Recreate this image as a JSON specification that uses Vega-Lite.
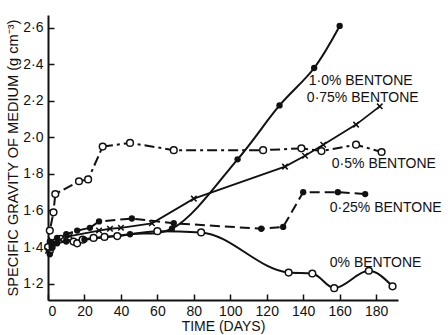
{
  "$schema": "https://vega.github.io/schema/vega-lite/v6.json",
  "width": 350,
  "height": 285,
  "autosize": "none",
  "padding": {"left": 48, "top": 15, "right": 50, "bottom": 35},
  "background": "white",
  "config": {
    "view": {"stroke": null},
    "font": "Liberation Sans",
    "axis": {
      "domainColor": "#111",
      "domainWidth": 2,
      "tickColor": "#111",
      "tickWidth": 1.5,
      "grid": false,
      "labelColor": "#111",
      "titleColor": "#111",
      "labelFont": "Liberation Sans",
      "titleFont": "Liberation Sans",
      "labelFontSize": 14,
      "titleFontSize": 14,
      "titleFontWeight": "normal"
    }
  },
  "datasets": {
    "series": [
      {"series": "0%", "day": 1, "val": 1.38},
      {"series": "0%", "day": 2, "val": 1.40},
      {"series": "0%", "day": 7, "val": 1.445},
      {"series": "0%", "day": 14, "val": 1.43},
      {"series": "0%", "day": 16, "val": 1.42},
      {"series": "0%", "day": 19, "val": 1.44},
      {"series": "0%", "day": 25, "val": 1.45},
      {"series": "0%", "day": 31, "val": 1.455},
      {"series": "0%", "day": 38, "val": 1.46},
      {"series": "0%", "day": 60, "val": 1.487},
      {"series": "0%", "day": 84, "val": 1.48},
      {"series": "0%", "day": 132, "val": 1.26},
      {"series": "0%", "day": 145, "val": 1.255},
      {"series": "0%", "day": 157, "val": 1.175},
      {"series": "0%", "day": 176, "val": 1.27},
      {"series": "0%", "day": 189, "val": 1.185},
      {"series": "1.0%", "day": 1, "val": 1.36},
      {"series": "1.0%", "day": 2, "val": 1.40},
      {"series": "1.0%", "day": 5, "val": 1.42},
      {"series": "1.0%", "day": 10, "val": 1.43},
      {"series": "1.0%", "day": 20, "val": 1.44},
      {"series": "1.0%", "day": 45, "val": 1.47},
      {"series": "1.0%", "day": 68, "val": 1.50},
      {"series": "1.0%", "day": 104, "val": 1.88},
      {"series": "1.0%", "day": 127, "val": 2.175},
      {"series": "1.0%", "day": 146, "val": 2.38},
      {"series": "1.0%", "day": 160, "val": 2.61},
      {"series": "0.25%", "day": 1, "val": 1.43},
      {"series": "0.25%", "day": 5, "val": 1.45},
      {"series": "0.25%", "day": 10, "val": 1.47},
      {"series": "0.25%", "day": 16, "val": 1.49},
      {"series": "0.25%", "day": 23, "val": 1.505},
      {"series": "0.25%", "day": 28, "val": 1.54},
      {"series": "0.25%", "day": 46, "val": 1.556},
      {"series": "0.25%", "day": 69, "val": 1.53},
      {"series": "0.25%", "day": 117, "val": 1.50},
      {"series": "0.25%", "day": 129, "val": 1.51},
      {"series": "0.25%", "day": 140, "val": 1.70},
      {"series": "0.25%", "day": 159, "val": 1.70},
      {"series": "0.25%", "day": 174, "val": 1.69},
      {"series": "0.75%", "day": 0, "val": 1.38},
      {"series": "0.75%", "day": 2, "val": 1.42},
      {"series": "0.75%", "day": 7, "val": 1.44},
      {"series": "0.75%", "day": 12, "val": 1.46},
      {"series": "0.75%", "day": 28, "val": 1.49},
      {"series": "0.75%", "day": 34, "val": 1.50},
      {"series": "0.75%", "day": 40, "val": 1.505},
      {"series": "0.75%", "day": 57, "val": 1.53},
      {"series": "0.75%", "day": 80, "val": 1.665},
      {"series": "0.75%", "day": 130, "val": 1.84},
      {"series": "0.75%", "day": 141, "val": 1.90},
      {"series": "0.75%", "day": 151, "val": 1.96},
      {"series": "0.75%", "day": 169, "val": 2.07},
      {"series": "0.75%", "day": 182, "val": 2.17},
      {"series": "0.5%", "day": 0, "val": 1.40},
      {"series": "0.5%", "day": 1, "val": 1.49},
      {"series": "0.5%", "day": 3, "val": 1.59},
      {"series": "0.5%", "day": 4, "val": 1.69},
      {"series": "0.5%", "day": 17, "val": 1.76},
      {"series": "0.5%", "day": 22, "val": 1.77},
      {"series": "0.5%", "day": 30, "val": 1.95},
      {"series": "0.5%", "day": 45, "val": 1.97},
      {"series": "0.5%", "day": 69, "val": 1.93},
      {"series": "0.5%", "day": 118, "val": 1.93},
      {"series": "0.5%", "day": 139, "val": 1.94},
      {"series": "0.5%", "day": 150, "val": 1.925},
      {"series": "0.5%", "day": 169, "val": 1.96},
      {"series": "0.5%", "day": 183, "val": 1.92}
    ],
    "labels": [
      {"text": "1·0% BENTONE", "day": 143, "val": 2.307},
      {"text": "0·75% BENTONE", "day": 142, "val": 2.214},
      {"text": "0·5% BENTONE", "day": 155.7, "val": 1.852},
      {"text": "0·25% BENTONE", "day": 154.6, "val": 1.616},
      {"text": "0% BENTONE", "day": 154.6, "val": 1.31}
    ]
  },
  "encoding": {
    "x": {
      "field": "day", "type": "quantitative",
      "scale": {"domain": [0, 192], "nice": false, "zero": false},
      "axis": {"title": "TIME (DAYS)", "values": [0, 20, 40, 60, 80, 100, 120, 140, 160, 180], "tickSize": -6, "labelPadding": 10, "titlePadding": 1}
    },
    "y": {
      "field": "val", "type": "quantitative",
      "scale": {"domain": [1.11, 2.67], "nice": false, "zero": false},
      "axis": {"title": "SPECIFIC GRAVITY OF MEDIUM (g cm⁻³)", "titleFontSize": 14.6, "values": [1.2, 1.4, 1.6, 1.8, 2.0, 2.2, 2.4, 2.6], "labelExpr": "replace(format(datum.value, '.1f'), '.', '·')", "tickSize": -6, "labelPadding": 11, "titlePadding": 2}
    }
  },
  "layer": [
    {
      "data": {"name": "series"},
      "transform": [{"filter": "datum.series === '0%'"}],
      "mark": {"type": "line", "interpolate": "monotone", "color": "#111", "strokeWidth": 2},
      "encoding": {}
    },
    {
      "data": {"name": "series"},
      "transform": [{"filter": "datum.series === '1.0%'"}],
      "mark": {"type": "line", "interpolate": "catmull-rom", "color": "#111", "strokeWidth": 2},
      "encoding": {}
    },
    {
      "data": {"name": "series"},
      "transform": [{"filter": "datum.series === '0.75%'"}],
      "mark": {"type": "line", "color": "#111", "strokeWidth": 1.8},
      "encoding": {}
    },
    {
      "data": {"name": "series"},
      "transform": [{"filter": "datum.series === '0.5%'"}],
      "mark": {"type": "line", "color": "#111", "strokeWidth": 2, "strokeDash": [10, 4, 3, 4]},
      "encoding": {}
    },
    {
      "data": {"name": "series"},
      "transform": [{"filter": "datum.series === '0.25%'"}],
      "mark": {"type": "line", "color": "#111", "strokeWidth": 2, "strokeDash": [10, 5]},
      "encoding": {}
    },
    {
      "data": {"name": "series"},
      "transform": [{"filter": "datum.series === '0%' || datum.series === '0.5%'"}],
      "mark": {"type": "point", "shape": "circle", "filled": true, "fill": "white", "stroke": "#111", "strokeWidth": 1.5, "size": 45, "opacity": 1},
      "encoding": {}
    },
    {
      "data": {"name": "series"},
      "transform": [{"filter": "datum.series === '1.0%' || datum.series === '0.25%'"}],
      "mark": {"type": "point", "shape": "circle", "filled": true, "color": "#111", "size": 40, "opacity": 1},
      "encoding": {}
    },
    {
      "data": {"name": "series"},
      "transform": [{"filter": "datum.series === '0.75%'"}],
      "mark": {"type": "point", "shape": "M-1,-1L1,1M-1,1L1,-1", "filled": false, "stroke": "#111", "strokeWidth": 1.5, "size": 30, "opacity": 1},
      "encoding": {}
    },
    {
      "data": {"name": "labels"},
      "mark": {"type": "text", "align": "left", "baseline": "middle", "font": "Liberation Sans", "fontSize": 14, "color": "#111"},
      "encoding": {"text": {"field": "text"}}
    }
  ]
}
